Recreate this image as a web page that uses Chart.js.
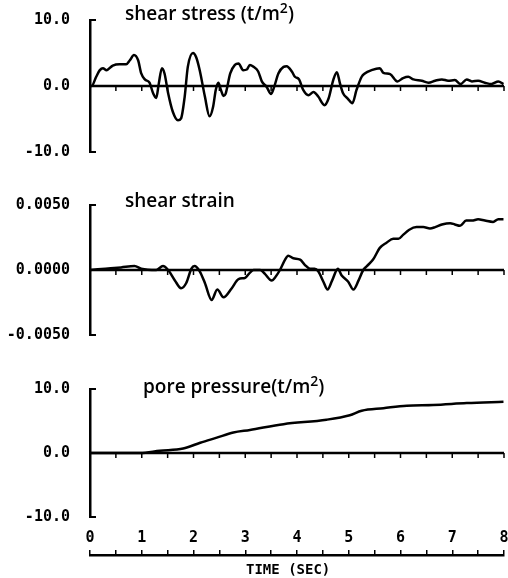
<!DOCTYPE html>
<html>
<head>
<meta charset="utf-8">
<script src="https://cdn.jsdelivr.net/npm/chart.js@4.4.1/dist/chart.umd.min.js"></script>
<style>
  body { margin: 0; background: #fff; width: 508px; height: 578px; overflow: hidden; position: relative; }
  canvas { position: absolute; left: 0; }
  .ttl { position: absolute; font-family: "Open Sans", sans-serif; font-weight: 600; font-size: 19px; line-height: 19px; color: #000; white-space: nowrap; }
  .ttl sup { font-size: 14px; line-height: 0; vertical-align: 7px; }
  #xtitle { position: absolute; left: 246px; top: 562px; font-family: "DejaVu Sans Mono", monospace; font-weight: bold; font-size: 14px; line-height: 14px; }
</style>
</head>
<body>
<canvas id="stress" width="520" height="163" style="top:0px"></canvas>
<canvas id="strain" width="520" height="161" style="top:185px"></canvas>
<canvas id="pore" width="520" height="158" style="top:370px"></canvas>
<canvas id="timeAxis" width="520" height="56" style="top:521px"></canvas>

<div class="ttl" style="left:125px;top:4px">shear stress (t/m<sup>2</sup>)</div>
<div class="ttl" style="left:125px;top:191px">shear strain</div>
<div class="ttl" style="left:143px;top:377px">pore pressure(t/m<sup>2</sup>)</div>
<div id="xtitle">TIME (SEC)</div>

<script>
// ---------------------------
// Data
// ---------------------------
const stressTime = [
    0, 0.03, 0.12, 0.19, 0.25, 0.32, 0.44, 0.57, 0.70, 0.77,
    0.85, 0.93, 0.99, 1.06, 1.15, 1.22, 1.28, 1.33, 1.39, 1.44,
    1.51, 1.60, 1.70, 1.76, 1.83, 1.89, 1.99, 2.05, 2.12, 2.22,
    2.31, 2.38, 2.43, 2.48, 2.53, 2.58, 2.62, 2.71, 2.80, 2.87,
    2.96, 3.03, 3.09, 3.16, 3.25, 3.32, 3.41, 3.50, 3.56, 3.64,
    3.74, 3.80, 3.90, 3.96, 4.04, 4.12, 4.22, 4.32, 4.41, 4.53,
    4.61, 4.70, 4.77, 4.83, 4.89, 4.98, 5.07, 5.15, 5.25, 5.31,
    5.44, 5.60, 5.67, 5.80, 5.94, 6.05, 6.15, 6.25, 6.41, 6.54,
    6.67, 6.80, 6.92, 7.05, 7.16, 7.28, 7.38, 7.50, 7.63, 7.76,
    7.89, 7.99
];
const stressValues = [
    0, 0, 1.4, 2.4, 2.7, 2.4, 3.1, 3.3, 3.3, 3.9,
    4.7, 3.9, 1.9, 1.0, 0.5, -1.1, -1.8, 0.4, 2.7, 1.9,
    -1.1, -3.9, -5.2, -4.9, -1.6, 2.9, 5.0, 4.4, 2.4, -1.6,
    -4.6, -3.1, -0.6, 0.5, -0.6, -1.5, -1.2, 1.9, 3.2, 3.4,
    2.4, 2.5, 3.2, 2.9, 2.2, 0.7, -0.1, -1.2, -0.1, 1.9,
    2.9, 3.0, 2.2, 1.4, 1.0, -0.6, -1.4, -0.9, -1.6, -2.9,
    -1.9, 0.9, 2.1, 0.4, -1.1, -1.9, -2.6, -0.6, 1.4, 1.9,
    2.4, 2.7, 2.0, 1.8, 0.7, 1.2, 1.4, 1.0, 0.8, 0.5,
    0.8, 1.0, 0.8, 0.9, 0.3, 1.0, 0.7, 0.8, 0.5, 0.3,
    0.7, 0.3
];

const strainTime = [
    0, 0.3, 0.6, 0.86, 0.99, 1.28, 1.41, 1.51, 1.64, 1.76,
    1.86, 1.96, 2.02, 2.12, 2.22, 2.35, 2.46, 2.58, 2.74, 2.87,
    3.0, 3.07, 3.16, 3.29, 3.38, 3.51, 3.59, 3.67, 3.77, 3.83,
    3.93, 4.06, 4.15, 4.25, 4.34, 4.41, 4.51, 4.59, 4.68, 4.79,
    4.86, 4.99, 5.09, 5.19, 5.28, 5.35, 5.47, 5.60, 5.73, 5.86,
    5.96, 6.05, 6.17, 6.31, 6.44, 6.57, 6.67, 6.80, 6.96, 7.05,
    7.15, 7.27, 7.38, 7.50, 7.63, 7.79, 7.89, 7.99
];
const strainValues = [
    0, 0.0001, 0.0002, 0.0003, 0.0001, 0, 0.0003, 0, -0.0008, -0.0014,
    -0.0010, 0.0001, 0.0003, -0.0001, -0.0010, -0.0023, -0.0015, -0.0021, -0.0014, -0.0007,
    -0.0006, -0.0003, 0, 0, -0.0003, -0.0008, -0.0005, 0, 0.0008, 0.0011,
    0.0009, 0.0008, 0.0004, 0.0001, 0.0001, -0.0001, -0.0009, -0.0015, -0.0008, 0.0001,
    -0.0004, -0.0009, -0.0015, -0.0008, 0, 0.0003, 0.0008, 0.0017, 0.0021, 0.0024,
    0.0024, 0.0027, 0.0031, 0.0033, 0.0033, 0.0032, 0.0033, 0.0035, 0.0036, 0.0035,
    0.0034, 0.0038, 0.0038, 0.0039, 0.0038, 0.0037, 0.0039, 0.0039
];

const poreTime = [0, 0.5, 0.97, 1.35, 1.80, 2.13, 2.45, 2.77, 3.09, 3.74, 4.57, 5.02, 5.25, 5.67, 6.12, 6.63, 7.28, 7.99];
const poreValues = [0, 0, 0, 0.35, 0.7, 1.6, 2.4, 3.2, 3.6, 4.5, 5.2, 5.9, 6.6, 7.0, 7.4, 7.5, 7.8, 8.0];

const timeTicks = [0, 1, 2, 3, 4, 5, 6, 7, 8];
const TIME_STEP = 0.5;

// ---------------------------
// Shared bits
// ---------------------------
const tickFont = { family: "DejaVu Sans Mono", size: 15, weight: "bold" };

// zero line with little down ticks, plus inward ticks on the y axis
const panelAxes = {
    id: "panelAxes",
    afterDatasetsDraw(chart) {
        const { x, y } = chart.scales;
        const { left, right } = chart.chartArea;
        const ctx = chart.ctx;
        const y0 = y.getPixelForValue(0);
        ctx.save();
        ctx.strokeStyle = "#000";
        ctx.lineWidth = 2.5;
        ctx.beginPath();
        ctx.moveTo(left, y0);
        ctx.lineTo(right, y0);
        ctx.stroke();

        ctx.lineWidth = 1.5;
        for (let v = x.min; v <= x.max + 1e-9; v += TIME_STEP) {
            const px = x.getPixelForValue(v);
            ctx.beginPath();
            ctx.moveTo(px, y0);
            ctx.lineTo(px, y0 + 5);
            ctx.stroke();
        }

        ctx.lineWidth = 2;
        y.ticks.forEach(t => {
            const py = y.getPixelForValue(t.value);
            ctx.beginPath();
            ctx.moveTo(left, py);
            ctx.lineTo(left + 6, py);
            ctx.stroke();
        });
        ctx.restore();
    }
};

function makePanel(id, times, values, yMax, digits, pad) {
    const pts = times.map((t, i) => ({ x: t, y: values[i] }));
    return new Chart(document.getElementById(id), {
        type: "line",
        data: {
            datasets: [{
                data: pts,
                borderColor: "#000",
                borderWidth: 2.5,
                pointRadius: 0,
                fill: false,
                cubicInterpolationMode: "monotone"
            }]
        },
        options: {
            responsive: false,
            animation: false,
            layout: { padding: { left: 0, right: 16, top: pad.top, bottom: pad.bottom } },
            plugins: { legend: { display: false }, tooltip: { enabled: false } },
            scales: {
                x: { type: "linear", min: 0, max: 8, display: false },
                y: {
                    min: -yMax,
                    max: yMax,
                    afterFit: s => { s.width = 90; },
                    ticks: {
                        stepSize: yMax,
                        color: "#000",
                        font: tickFont,
                        padding: 2,
                        callback: v => v.toFixed(digits)
                    },
                    // invisible tick marks just push the labels away from the axis
                    grid: { drawOnChartArea: false, drawTicks: true, tickLength: 18, color: "rgba(0,0,0,0)" },
                    border: { display: true, color: "#000", width: 2.5 }
                }
            }
        },
        plugins: [panelAxes]
    });
}

makePanel("stress", stressTime, stressValues, 10, 1, { top: 20, bottom: 11 });
makePanel("strain", strainTime, strainValues, 0.005, 4, { top: 20, bottom: 11 });
makePanel("pore", poreTime, poreValues, 10, 1, { top: 19, bottom: 11 });

// ---------------------------
// Time axis under the last panel
// ---------------------------
new Chart(document.getElementById("timeAxis"), {
    type: "line",
    data: { datasets: [] },
    options: {
        responsive: false,
        animation: false,
        layout: { padding: { left: 90, right: 16, top: 0, bottom: 0 } },
        plugins: { legend: { display: false }, tooltip: { enabled: false } },
        scales: {
            x: {
                type: "linear",
                position: "top",
                min: 0,
                max: 8,
                afterFit: s => { s.height = 34; },
                ticks: {
                    stepSize: TIME_STEP,
                    autoSkip: false,
                    maxRotation: 0,
                    padding: 3,
                    color: "#000",
                    font: tickFont,
                    callback: v => timeTicks.includes(v) ? String(v) : ""
                },
                grid: { drawOnChartArea: false, drawTicks: true, tickLength: 5, color: "#000", lineWidth: 1.5 },
                border: { display: true, color: "#000", width: 2.5 }
            },
            y: { display: false }
        }
    }
});
</script>
</body>
</html>
